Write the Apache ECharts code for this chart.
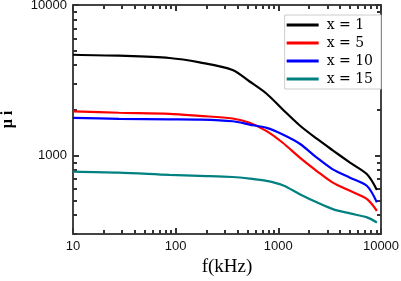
<!DOCTYPE html>
<html>
<head>
<meta charset="utf-8">
<script src="https://cdn.jsdelivr.net/npm/echarts@6/dist/echarts.min.js"></script>
<style>
html, body { margin: 0; padding: 0; background: #fff; }
#chart { width: 401px; height: 281px; }
</style>
</head>
<body>
<div id="chart"></div>
<script>
// 频率 (kHz)
var freq = [10, 28, 87, 171, 358, 525, 769, 1104, 1618, 2370, 3390, 4990, 7310, 9120];
// 磁导率 μi
var mu1 = [4670, 4600, 4440, 4150, 3700, 3100, 2570, 2020, 1580, 1290, 1080, 895, 748, 589];
var mu5 = [1960, 1920, 1890, 1830, 1758, 1648, 1449, 1213, 966, 787, 659, 581, 512, 428];
var mu10 = [1778, 1751, 1738, 1730, 1686, 1603, 1524, 1377, 1195, 966, 807, 711, 626, 487];
var mu15 = [780, 768, 741, 730, 718, 701, 676, 633, 552, 487, 439, 411, 387, 358];
var names = ['x = 1', 'x = 5', 'x = 10', 'x = 15'];
var colors = ['#000000', '#ff0000', '#0000ff', '#008080'];

// 刻度
var xMajor = [10, 100, 1000, 10000];
var xMinor = [20, 30, 40, 50, 60, 70, 80, 90, 200, 300, 400, 500, 600, 700, 800, 900,
  2000, 3000, 4000, 5000, 6000, 7000, 8000, 9000];
var yMajor = [1000, 10000];
var yMinor = [300, 400, 500, 600, 700, 800, 900, 2000, 3000, 4000, 5000, 6000, 7000, 8000, 9000];

var axisColor = '#444';

var pair = function(xs, ys){
  return xs.map(function(x, i){ return [x, ys[i]]; });
};

// 对数轴（主/次刻度各用一条轴）
var makeAxis = function(pos, min, max, ticks, len, label, line){
  return {
    type: 'log',
    position: pos,
    min: min,
    max: max,
    axisLine: { show: line, onZero: false, lineStyle: { color: axisColor, width: 2 } },
    axisTick: { show: true, inside: true, length: len, customValues: ticks,
      lineStyle: { color: '#333', width: 2 } },
    axisLabel: { show: label, customValues: ticks, color: '#111',
      formatter: function(v){ return String(v); },
      fontFamily: 'Liberation Sans', fontSize: 13, margin: 6 },
    splitLine: { show: false }
  };
};

var mCharts = echarts.init(document.getElementById('chart'));

var xAxes = [
  makeAxis('bottom', 10, 10000, xMajor, 6, true, true),
  makeAxis('bottom', 10, 10000, xMinor, 4, false, false),
  makeAxis('top', 10, 10000, xMajor, 6, false, true),
  makeAxis('top', 10, 10000, xMinor, 4, false, false)
];
xAxes[0].name = 'f(kHz)';
xAxes[0].nameLocation = 'middle';
xAxes[0].nameGap = 21;
xAxes[0].nameTextStyle = { fontFamily: 'Liberation Serif', fontSize: 19, color: '#000' };

var yAxes = [
  makeAxis('left', 300, 10000, yMajor, 6, true, true),
  makeAxis('left', 300, 10000, yMinor, 4, false, false),
  makeAxis('right', 300, 10000, yMajor, 6, false, true),
  makeAxis('right', 300, 10000, yMinor, 4, false, false)
];
yAxes[0].name = 'μ i';
yAxes[0].nameLocation = 'middle';
yAxes[0].nameRotate = 90;
yAxes[0].nameGap = 57;
yAxes[0].nameTextStyle = { fontFamily: 'Liberation Serif', fontSize: 16, fontWeight: 'bold', color: '#000' };

var allMu = [mu1, mu5, mu10, mu15];
var series = allMu.map(function(ys, i){
  return {
    name: names[i],
    type: 'line',
    xAxisIndex: 0,
    yAxisIndex: 0,
    smooth: 0.3,
    symbol: 'none',
    color: colors[i],
    lineStyle: { width: 2.2, color: colors[i] },
    data: pair(freq, ys)
  };
});

var option = {
  animation: false,
  backgroundColor: '#fff',
  grid: { left: 73, right: 20, top: 5, bottom: 47, outerBoundsMode: 'none' },
  legend: {
    orient: 'vertical',
    right: 20,
    top: 15,
    icon: 'rect',
    itemWidth: 32,
    itemHeight: 3,
    itemGap: 4,
    padding: [3, 8, 3, 2],
    borderColor: '#ccc',
    borderWidth: 1,
    backgroundColor: '#fff',
    textStyle: { fontFamily: 'DejaVu Serif', fontSize: 14, color: '#000', padding: [0, 0, 0, 3] },
    data: names
  },
  xAxis: xAxes,
  yAxis: yAxes,
  series: series
};
mCharts.setOption(option);
</script>
</body>
</html>
